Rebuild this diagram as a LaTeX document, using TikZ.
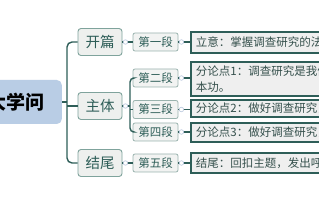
\documentclass[tikz,border=0pt]{standalone}
\usepackage{fontspec}
\setmainfont{Noto Sans CJK SC}
\definecolor{conn}{HTML}{2E5E58}
\definecolor{rootfill}{HTML}{B9CDE5}
\definecolor{lonefill}{HTML}{EEF0EE}
\definecolor{loneborder}{HTML}{7FA39C}
\definecolor{ltext}{HTML}{2D5D57}
\definecolor{ltwofill}{HTML}{F2F3F2}
\definecolor{ltwoborder}{HTML}{9AB3AE}
\definecolor{lthreefill}{HTML}{EFEFEF}
\definecolor{lthreetext}{HTML}{35504C}
\definecolor{knob}{HTML}{B8C6DC}
\begin{document}
\begin{tikzpicture}[x=1pt,y=-1pt,
  rootbox/.style={fill=rootfill, rounded corners=5pt, font=\fontsize{19}{19}\selectfont\bfseries, text=black, inner ysep=0pt},
  lone/.style={draw=loneborder, fill=lonefill, rounded corners=3pt, line width=0.9pt, minimum width=44pt, minimum height=27pt, inner sep=0pt, text=ltext, font=\fontsize{14.5}{14.5}\selectfont},
  ltwo/.style={draw=ltwoborder, fill=ltwofill, rounded corners=2pt, line width=0.8pt, minimum width=45pt, minimum height=18pt, inner sep=0pt, text=ltext, font=\fontsize{11.5}{11.5}\selectfont},
  lthree/.style={draw=conn, fill=lthreefill, line width=1.8pt, anchor=west, text width=150pt, align=left, inner xsep=5pt, inner ysep=0pt, text=lthreetext, font=\fontsize{11.5}{16}\selectfont},
  cn/.style={draw=conn, line width=1.4pt},
  knobc/.style={circle, draw=knob, fill=white, line width=0.6pt, inner sep=0pt, minimum size=4.5pt}
]
\useasboundingbox (0,0) rectangle (319,200);
\clip (0,0) rectangle (319,200);
\fill[white] (0,0) rectangle (319,200);

% root
\node[rootbox, anchor=east, minimum height=44pt, text width=80pt, align=right, inner xsep=17pt] (root) at (62,102) {大学问};

% level one
\node[lone] (kp) at (100,42) {开篇};
\node[lone] (zt) at (100,106) {主体};
\node[lone] (jw) at (100,163) {结尾};

% level two
\node[ltwo] (d1) at (155.5,42) {第一段};
\node[ltwo] (d2) at (155.5,78) {第二段};
\node[ltwo] (d3) at (155.5,109.5) {第三段};
\node[ltwo] (d4) at (155.5,132) {第四段};
\node[ltwo] (d5) at (155.5,163) {第五段};

% level three
\node[lthree, minimum height=21pt] (t1) at (190,42.5) {立意：掌握调查研究的法宝};
\node[lthree, minimum height=34pt] (t2) at (190,79) {分论点1：调查研究是我们党的基\\本功。};
\node[lthree, minimum height=17pt] (t3) at (190,108.5) {分论点2：做好调查研究，};
\node[lthree, minimum height=19pt] (t4) at (190,132.5) {分论点3：做好调查研究，};
\node[lthree, minimum height=20pt] (t5) at (190,163) {结尾：回扣主题，发出呼吁};

% trunk
\coordinate (tr) at (67,102);
\draw[cn] (root.east) -- (tr);
\draw[cn, rounded corners=5pt] (tr) |- (kp.west);
\draw[cn, rounded corners=5pt] (tr) |- (jw.west);
\draw[cn] (tr |- zt.west) -- (zt.west);

% level one to two
\draw[cn] (kp.east) -- (d1.west);
\draw[cn] (jw.east) -- (d5.west);
\coordinate (sub) at (130,106);
\draw[cn] (zt.east) -- (sub);
\draw[cn, rounded corners=4pt] (sub) |- (d2.west);
\draw[cn, rounded corners=4pt] (sub) |- (d4.west);
\draw[cn] (sub |- d3.west) -- (d3.west);
\node[knobc] (k1) at ([xshift=3pt]kp.east) {};
\node[knobc] (k2) at ([xshift=3pt]zt.east) {};
\node[knobc] (k3) at ([xshift=3pt]jw.east) {};

% level two to three
\foreach \a/\b in {d1/t1,d2/t2,d3/t3,d4/t4,d5/t5}{
  \draw[cn] (\a.east) -- (\a.east -| \b.west);
  \node[knobc] at ([xshift=3pt]\a.east) {};
}
\end{tikzpicture}
\end{document}
